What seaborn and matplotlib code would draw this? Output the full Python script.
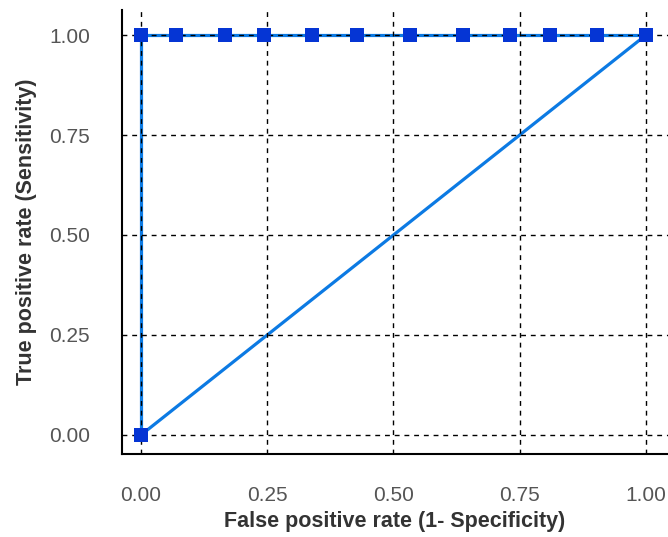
import matplotlib
matplotlib.use("Agg")
import matplotlib.pyplot as plt
import seaborn as sns
import pandas as pd

# ROC curve points
fpr = [0.0, 0.0, 0.069, 0.166, 0.244, 0.339, 0.428, 0.533, 0.638, 0.731, 0.810, 0.903, 1.0]
tpr = [0.0, 1.0, 1.0, 1.0, 1.0, 1.0, 1.0, 1.0, 1.0, 1.0, 1.0, 1.0, 1.0]
# reference diagonal
diag_x = [0.0, 1.0]
diag_y = [0.0, 1.0]
ticks = [0.0, 0.25, 0.5, 0.75, 1.0]
tick_labels = ["0.00", "0.25", "0.50", "0.75", "1.00"]

sns.set_style("white")
plt.rcParams['font.family'] = ['Liberation Sans', 'DejaVu Sans']

fig = plt.figure(figsize=(6.68, 5.37), dpi=100)
ax = fig.add_axes([122 / 668, 1 - 454 / 537, 1 - 122 / 668, (454 - 10) / 537])

roc = pd.DataFrame({"fpr": fpr, "tpr": tpr})
dg = pd.DataFrame({"x": diag_x, "y": diag_y})

line_col = "#0c7ae3"
mark_col = "#0535d4"

sns.lineplot(data=dg, x="x", y="y", ax=ax, color=line_col, lw=2.3, zorder=2)
sns.lineplot(data=roc, x="fpr", y="tpr", ax=ax, sort=False, estimator=None,
             color=line_col, lw=2.3, zorder=2)
sns.scatterplot(data=roc, x="fpr", y="tpr", ax=ax, marker="s", s=110,
                color=mark_col, edgecolor=mark_col, linewidth=0, zorder=4)

ax.set_xlim(-0.0376, 1.0436)
ax.set_ylim(-0.0475, 1.0625)
ax.set_xticks(ticks)
ax.set_xticklabels(tick_labels)
ax.set_yticks(ticks)
ax.set_yticklabels(tick_labels)

ax.set_axisbelow(False)
ax.grid(True, color="black", linestyle=(0, (3.5, 3.5)), lw=1.0, zorder=3)

for s in ["top", "right"]:
    ax.spines[s].set_visible(False)
for s in ["left", "bottom"]:
    ax.spines[s].set_color("black")
    ax.spines[s].set_linewidth(1.5)

ax.tick_params(axis="both", direction="out", length=14, width=1.5, color="black",
               labelsize=15, labelcolor="#555555", pad=9)

ax.set_xlabel("False positive rate (1- Specificity)", fontsize=15.5, fontweight="bold",
              color="#333333", labelpad=4)
ax.set_ylabel("True positive rate (Sensitivity)", fontsize=15.5, fontweight="bold",
              color="#333333", labelpad=9)

fig.savefig("out.png", dpi=100)
